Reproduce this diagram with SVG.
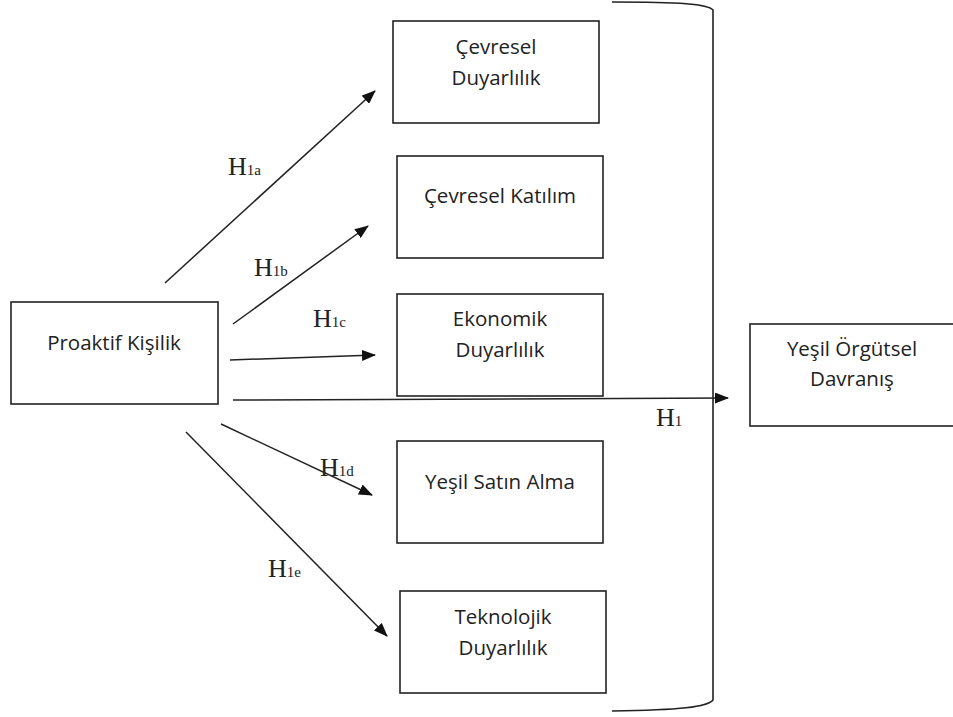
<svg xmlns="http://www.w3.org/2000/svg" width="953" height="717" viewBox="0 0 953 717">
<style>
.box{fill:#fff;stroke:#222;stroke-width:1.6}
.t{font-family:"Open Sans","Liberation Sans",sans-serif;font-size:20.5px;fill:#222;text-anchor:middle}
.h{font-family:"Liberation Serif","DejaVu Serif",serif;font-size:26px;fill:#222}
.s{font-size:15px}
.c{stroke:#222;stroke-width:1.5;fill:none;marker-end:url(#ah)}
</style>
<defs>
<marker id="ah" markerWidth="14" markerHeight="11" refX="13" refY="5.5" orient="auto" markerUnits="userSpaceOnUse">
<path d="M0,0 L14,5.5 L0,11 Z" fill="#111"/>
</marker>
</defs>
<rect width="953" height="717" fill="#fff"/>
<g id="connectors">
<line class="c" x1="165" y1="283" x2="375" y2="91"/>
<line class="c" x1="233" y1="324" x2="368" y2="226"/>
<line class="c" x1="230" y1="360" x2="375" y2="355"/>
<line class="c" x1="233" y1="400" x2="728" y2="398"/>
<line class="c" x1="221" y1="424" x2="372" y2="495"/>
<line class="c" x1="186" y1="432" x2="387" y2="636"/>
<path d="M612,2 C680,2 708,4 713,10 L713,700 C708,707 680,710 612,711" fill="none" stroke="#222" stroke-width="1.6"/>
</g>
<g id="labels">
<text class="h" x="228" y="175">H<tspan class="s">1a</tspan></text>
<text class="h" x="254" y="276">H<tspan class="s">1b</tspan></text>
<text class="h" x="313" y="327">H<tspan class="s">1c</tspan></text>
<text class="h" x="320" y="476">H<tspan class="s">1d</tspan></text>
<text class="h" x="268" y="577">H<tspan class="s">1e</tspan></text>
<text class="h" x="656" y="426">H<tspan class="s">1</tspan></text>
</g>
<g id="proaktif">
<rect class="box" x="11" y="302" width="207" height="102"/>
<text class="t" x="114" y="350">Proaktif Kişilik</text>
</g>
<g id="cevresel-duyarlilik">
<rect class="box" x="393" y="21" width="206" height="102"/>
<text class="t" x="496" y="54">Çevresel</text>
<text class="t" x="496" y="85">Duyarlılık</text>
</g>
<g id="cevresel-katilim">
<rect class="box" x="397" y="156" width="206" height="102"/>
<text class="t" x="500" y="203">Çevresel Katılım</text>
</g>
<g id="ekonomik">
<rect class="box" x="397" y="294" width="206" height="102"/>
<text class="t" x="500" y="326">Ekonomik</text>
<text class="t" x="500" y="357">Duyarlılık</text>
</g>
<g id="yesil-satin-alma">
<rect class="box" x="397" y="441" width="206" height="102"/>
<text class="t" x="500" y="489">Yeşil Satın Alma</text>
</g>
<g id="teknolojik">
<rect class="box" x="400" y="591" width="206" height="102"/>
<text class="t" x="503" y="624">Teknolojik</text>
<text class="t" x="503" y="655">Duyarlılık</text>
</g>
<g id="yesil-orgutsel">
<rect class="box" x="750" y="324" width="205" height="102"/>
<text class="t" x="852" y="356">Yeşil Örgütsel</text>
<text class="t" x="852" y="386">Davranış</text>
</g>
</svg>
